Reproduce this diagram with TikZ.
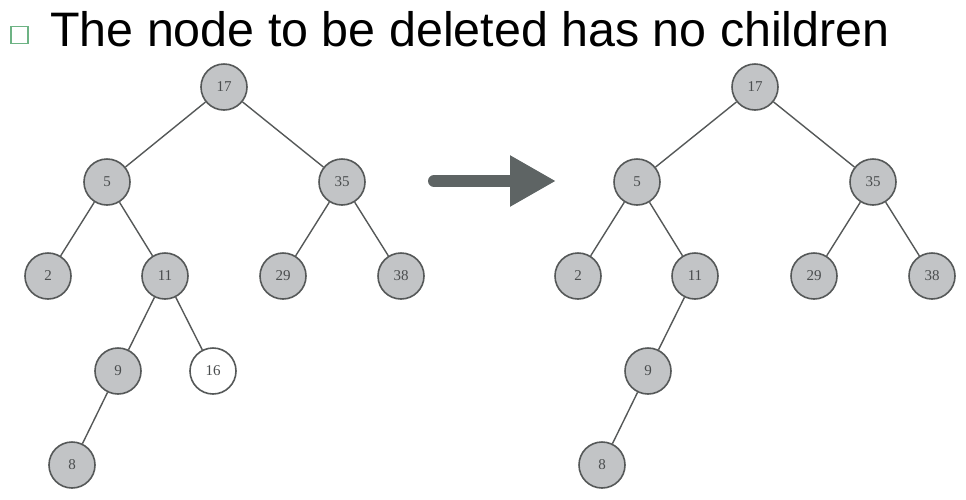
\documentclass[tikz,border=0pt]{standalone}
\usepackage{fontspec}
\setmainfont{Liberation Sans}
\newfontfamily\keyfont{Liberation Serif}
\usetikzlibrary{arrows.meta}
\definecolor{keyfill}{HTML}{C2C4C6}
\definecolor{keyline}{HTML}{555858}
\definecolor{keytext}{HTML}{4A4D4E}
\definecolor{arrowgrey}{HTML}{5E6464}
\definecolor{bulletgreen}{HTML}{6DB384}
\tikzset{
	key/.style={circle, draw=keyline, line width=1.6pt, fill=keyfill, minimum size=46pt, inner sep=0pt, font=\keyfont\fontsize{15}{15}\selectfont, text=keytext},
	gone/.style={key, fill=white},
	edge/.style={draw=keyline, line width=1.4pt}
}
\begin{document}
\begin{tikzpicture}[x=1pt,y=-1pt]
	\useasboundingbox (0,0) rectangle (966,499);
	%title
		\node[draw=bulletgreen, line width=1.3pt, minimum size=17pt, inner sep=0pt] (bullet) at (19.5,35) {};
		\node[anchor=base west, inner sep=0pt, font=\fontsize{48.4}{48.4}\selectfont] (title) at (50,46) {The node to be deleted has no children};
	%tree before
		\node[key] (a17) at (224,87) {17};
		\node[key] (a5) at (107,182) {5};
		\node[key] (a35) at (342,182) {35};
		\node[key] (a2) at (48,276) {2};
		\node[key] (a11) at (165,276) {11};
		\node[key] (a29) at (283,276) {29};
		\node[key] (a38) at (401,276) {38};
		\node[key] (a9) at (118,371) {9};
		\node[gone] (a16) at (213,371) {16};
		\node[key] (a8) at (72,465) {8};
		\draw[edge] (a17) -- (a5);
		\draw[edge] (a17) -- (a35);
		\draw[edge] (a5) -- (a2);
		\draw[edge] (a5) -- (a11);
		\draw[edge] (a35) -- (a29);
		\draw[edge] (a35) -- (a38);
		\draw[edge] (a11) -- (a9);
		\draw[edge] (a11) -- (a16);
		\draw[edge] (a9) -- (a8);
	%arrow
		\coordinate (from) at (434,181);
		\coordinate (to) at (556,181);
		\draw[arrowgrey, line width=12pt, line cap=round, -{Triangle[length=46pt,width=48pt]}] (from) -- (to);
	%tree after
		\node[key] (b17) at (755,87) {17};
		\node[key] (b5) at (637,182) {5};
		\node[key] (b35) at (873,182) {35};
		\node[key] (b2) at (578,276) {2};
		\node[key] (b11) at (695,276) {11};
		\node[key] (b29) at (814,276) {29};
		\node[key] (b38) at (932,276) {38};
		\node[key] (b9) at (648,371) {9};
		\node[key] (b8) at (602,465) {8};
		\draw[edge] (b17) -- (b5);
		\draw[edge] (b17) -- (b35);
		\draw[edge] (b5) -- (b2);
		\draw[edge] (b5) -- (b11);
		\draw[edge] (b35) -- (b29);
		\draw[edge] (b35) -- (b38);
		\draw[edge] (b11) -- (b9);
		\draw[edge] (b9) -- (b8);
\end{tikzpicture}
\end{document}
